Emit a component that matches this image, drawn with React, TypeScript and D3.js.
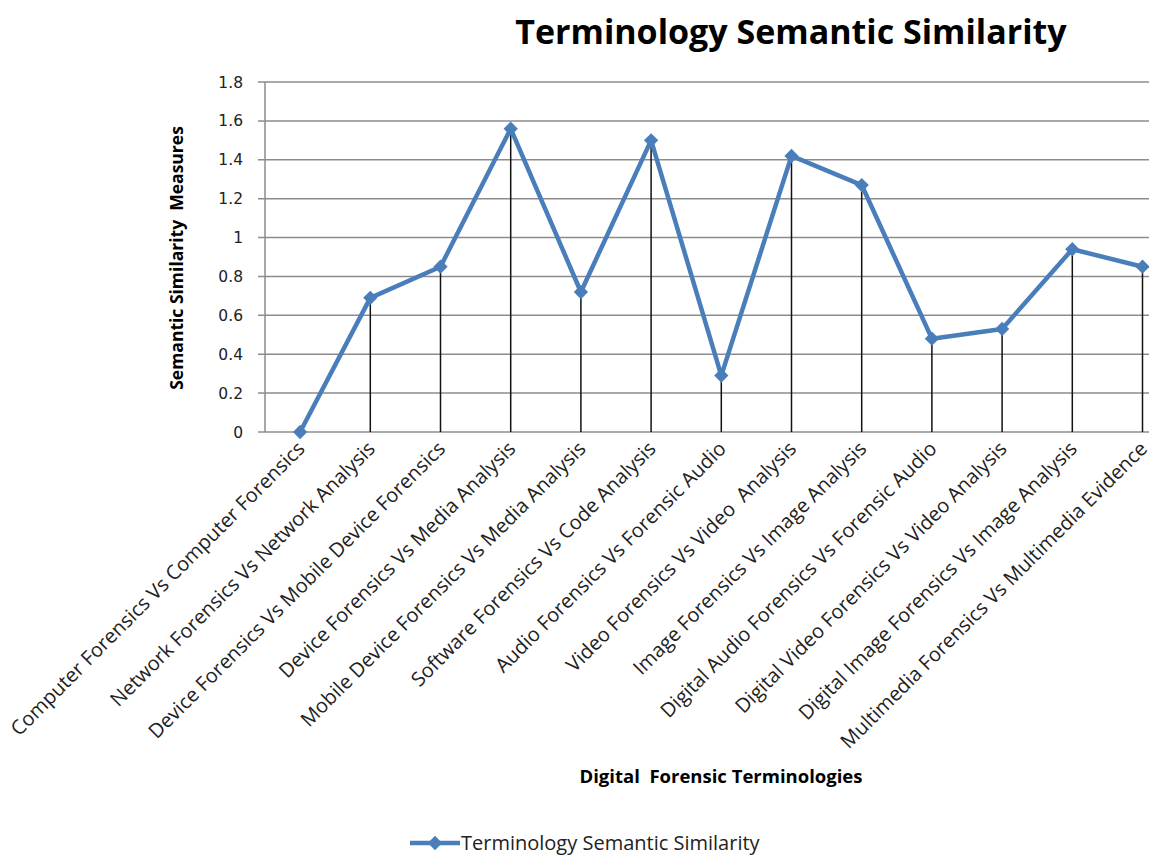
import React, { useEffect, useRef } from 'react';
import * as d3 from 'd3';

const categories = [
  'Computer Forensics Vs Computer Forensics',
  'Network Forensics Vs Network Analysis',
  'Device Forensics Vs Mobile Device Forensics',
  'Device Forensics Vs Media Analysis',
  'Mobile Device Forensics Vs Media Analysis',
  'Software Forensics Vs Code Analysis',
  'Audio Forensics Vs Forensic Audio',
  'Video Forensics Vs Video  Analysis',
  'Image Forensics Vs Image Analysis',
  'Digital Audio Forensics Vs Forensic Audio',
  'Digital Video Forensics Vs Video Analysis',
  'Digital Image Forensics Vs Image Analysis',
  'Multimedia Forensics Vs Multimedia Evidence',
];

const similarity = [0, 0.69, 0.85, 1.56, 0.72, 1.5, 0.29, 1.42, 1.27, 0.48, 0.53, 0.94, 0.85];

const yTicks = [0, 0.2, 0.4, 0.6, 0.8, 1, 1.2, 1.4, 1.6, 1.8];

const seriesName = 'Terminology Semantic Similarity';

const FONT = "'Open Sans', sans-serif";

const App: React.FC = () => {
  const svgRef = useRef<SVGSVGElement>(null);

  useEffect(() => {
    if (!svgRef.current) return;

    const width = 1149;
    const height = 855;
    const blue = '#4a7ebb';

    const svg = d3.select(svgRef.current);
    svg.selectAll('*').remove();

    svg.append('rect').attr('width', width).attr('height', height).attr('fill', '#fff');

    // plot runs past the right edge, like the original screenshot
    const left = 265;
    const step = 70.2;
    const x = d3.scaleBand<string>()
      .domain(categories)
      .range([left, left + step * categories.length])
      .padding(0);
    const cx = (c: string) => (x(c) as number) + x.bandwidth() / 2;

    const y = d3.scaleLinear().domain([0, 1.8]).range([432, 82]);

    // gridlines
    svg.append('g')
      .selectAll('line')
      .data(yTicks)
      .enter().append('line')
      .attr('x1', left - 7)
      .attr('x2', width)
      .attr('y1', d => y(d))
      .attr('y2', d => y(d))
      .attr('stroke', '#8c8c8c')
      .attr('stroke-width', 1.5);

    // y axis line
    svg.append('line')
      .attr('x1', left).attr('x2', left)
      .attr('y1', y(1.8)).attr('y2', y(0))
      .attr('stroke', '#8c8c8c')
      .attr('stroke-width', 1.5);

    // y tick labels
    svg.append('g')
      .selectAll('text')
      .data(yTicks)
      .enter().append('text')
      .attr('x', 243)
      .attr('y', d => y(d))
      .attr('dy', '0.36em')
      .attr('text-anchor', 'end')
      .attr('font-family', 'DejaVu Sans, sans-serif')
      .attr('font-size', '15.5px')
      .attr('fill', '#222')
      .text(d => String(d));

    // drop lines
    svg.append('g')
      .selectAll('line')
      .data(categories)
      .enter().append('line')
      .attr('x1', d => cx(d))
      .attr('x2', d => cx(d))
      .attr('y1', (d, i) => y(similarity[i]))
      .attr('y2', y(0))
      .attr('stroke', '#111')
      .attr('stroke-width', 1.5);

    // series line
    const line = d3.line<number>()
      .x((d, i) => cx(categories[i]))
      .y(d => y(d));

    svg.append('path')
      .datum(similarity)
      .attr('fill', 'none')
      .attr('stroke', blue)
      .attr('stroke-width', 4.5)
      .attr('stroke-linejoin', 'round')
      .attr('d', line);

    const diamond = d3.symbol().type(d3.symbolDiamond2).size(130);

    svg.append('g')
      .selectAll('path')
      .data(similarity)
      .enter().append('path')
      .attr('transform', (d, i) => `translate(${cx(categories[i])},${y(d)})`)
      .attr('d', diamond)
      .attr('fill', blue);

    // category labels
    svg.append('g')
      .selectAll('text')
      .data(categories)
      .enter().append('text')
      .attr('transform', d => `translate(${cx(d) + 6},${450}) rotate(-45)`)
      .attr('text-anchor', 'end')
      .attr('font-family', FONT)
      .attr('font-size', '20px')
      .attr('fill', '#222')
      .attr('xml:space', 'preserve')
      .text(d => d);

    // title
    svg.append('text')
      .attr('x', 791)
      .attr('y', 44)
      .attr('text-anchor', 'middle')
      .attr('font-family', FONT)
      .attr('font-weight', 'bold')
      .attr('font-size', '34px')
      .attr('fill', '#000')
      .text(seriesName);

    // axis titles
    svg.append('text')
      .attr('transform', 'translate(183,258) rotate(-90)')
      .attr('text-anchor', 'middle')
      .attr('font-family', FONT)
      .attr('font-weight', 'bold')
      .attr('font-size', '17.5px')
      .attr('fill', '#000')
      .attr('xml:space', 'preserve')
      .text('Semantic Similarity  Measures');

    svg.append('text')
      .attr('x', 721)
      .attr('y', 783)
      .attr('text-anchor', 'middle')
      .attr('font-family', FONT)
      .attr('font-weight', 'bold')
      .attr('font-size', '18.5px')
      .attr('fill', '#000')
      .attr('xml:space', 'preserve')
      .text('Digital  Forensic Terminologies');

    // legend
    const legend = svg.append('g').attr('transform', 'translate(410,843)');
    legend.append('line')
      .attr('x1', 0).attr('x2', 50)
      .attr('stroke', blue)
      .attr('stroke-width', 4.5);
    legend.append('path')
      .attr('transform', 'translate(25,0)')
      .attr('d', diamond)
      .attr('fill', blue);
    legend.append('text')
      .attr('x', 51)
      .attr('dy', '0.35em')
      .attr('font-family', FONT)
      .attr('font-size', '20px')
      .attr('fill', '#222')
      .text(seriesName);
  }, []);

  return (
    <svg
      ref={svgRef}
      width={1149}
      height={855}
      style={{ position: 'absolute', left: 0, top: 0, display: 'block' }}
    />
  );
};

export default App;
